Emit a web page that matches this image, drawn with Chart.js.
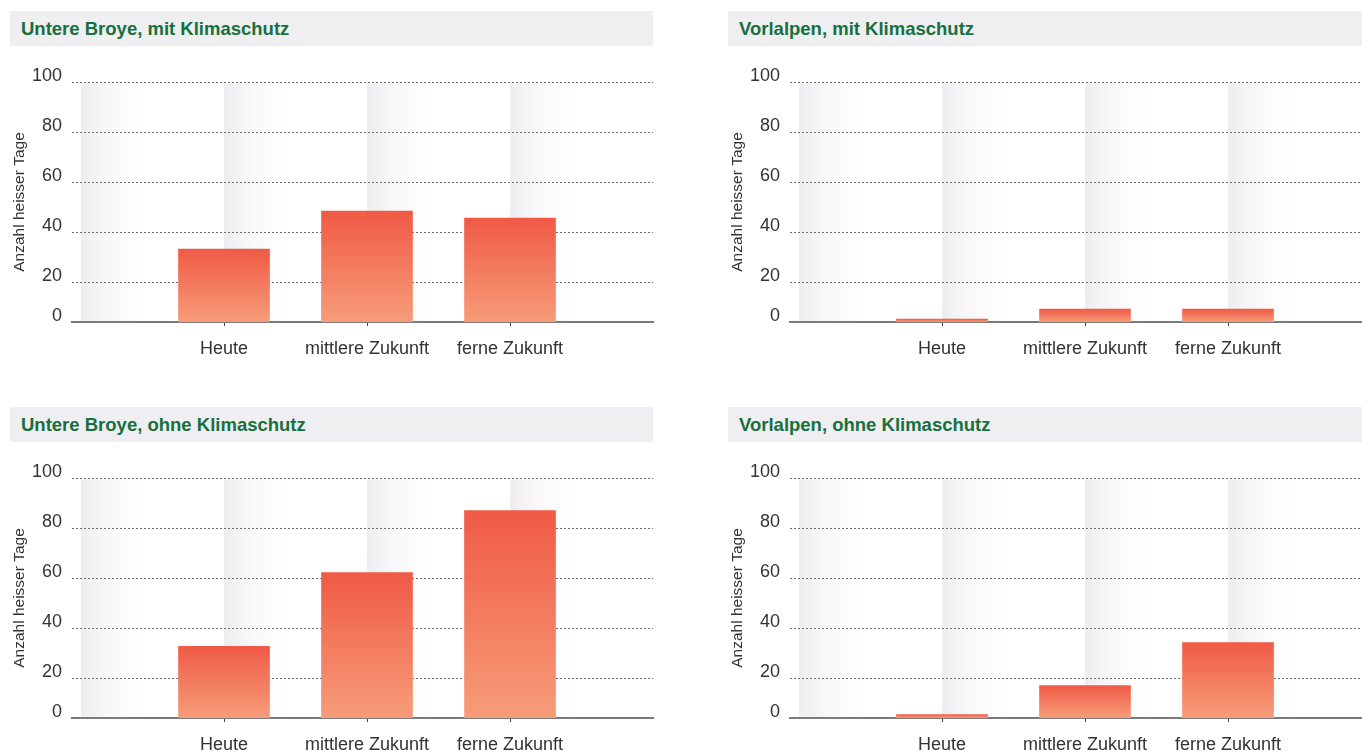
<!DOCTYPE html>
<html>
<head>
<meta charset="utf-8">
<script src="https://cdn.jsdelivr.net/npm/chart.js@4/dist/chart.umd.min.js"></script>
<style>
  body {
    margin: 0;
    width: 1362px;
    height: 751px;
    overflow: hidden;
    position: relative;
    background: #fff;
    font-family: "Liberation Sans", Arial, sans-serif;
  }
  .panel {
    position: absolute;
    width: 680px;
    height: 396px;
  }
  .head {
    position: absolute;
    left: 10px;
    top: 11px;
    width: 632px;
    height: 35px;
    padding-left: 11px;
    line-height: 35px;
    background: #efeef1;
    color: #17703e;
    font-weight: bold;
    font-size: 18.5px;
    white-space: nowrap;
  }
  .panel canvas {
    position: absolute;
    left: 0;
    top: 50px;
  }
</style>
</head>
<body>
<div class="panel" style="left:0;top:0">
  <div class="head">Untere Broye, mit Klimaschutz</div>
  <canvas id="broyeMit" width="680" height="345"></canvas>
</div>
<div class="panel" style="left:718px;top:0">
  <div class="head">Vorlalpen, mit Klimaschutz</div>
  <canvas id="voralpenMit" width="680" height="345"></canvas>
</div>
<div class="panel" style="left:0;top:396px">
  <div class="head">Untere Broye, ohne Klimaschutz</div>
  <canvas id="broyeOhne" width="680" height="345"></canvas>
</div>
<div class="panel" style="left:718px;top:396px">
  <div class="head">Vorlalpen, ohne Klimaschutz</div>
  <canvas id="voralpenOhne" width="680" height="345"></canvas>
</div>
<script>
// categories along the x axis
const categories = ["Heute", "mittlere Zukunft", "ferne Zukunft"];
// y axis tick labels (the lowest one sits on the axis line)
const yTickLabels = ["0", "20", "40", "60", "80", "100"];
const yTickValues = [20, 40, 60, 80, 100];
const axisTitle = "Anzahl heisser Tage";

// Anzahl heisser Tage per scenario
const broyeMit = [33.2, 48.4, 45.6];
const voralpenMit = [5.2, 9.2, 9.2];
const broyeOhne = [32.7, 62.2, 87];
const voralpenOhne = [5.4, 17, 34.2];

// the axis line of the original sits a little above the 0 of the grid spacing
const yAxisMin = 4;
const fontFamily = '"Liberation Sans", Arial, sans-serif';

// gray bands starting at every slot and fading out to the right
const bandPlugin = {
  id: "bands",
  beforeDraw(chart) {
    const { ctx, chartArea, scales } = chart;
    const x = scales.x;
    ctx.save();
    for (let i = 0; i <= categories.length; i++) {
      const x0 = x.getPixelForValue(i);
      const x1 = x.getPixelForValue(i + 1);
      const g = ctx.createLinearGradient(x0, 0, x0 + 75, 0);
      g.addColorStop(0, "#edecf0");
      g.addColorStop(1, "rgba(255,255,255,0)");
      ctx.fillStyle = g;
      ctx.fillRect(x0, chartArea.top + 1.5, x1 - x0, chartArea.bottom - chartArea.top - 1.5);
    }
    ctx.restore();
  },
};

function barGradient(context) {
  const chart = context.chart;
  const { chartArea } = chart;
  if (!chartArea || context.type !== "data") return "#f05a46";
  const top = chart.scales.y.getPixelForValue(context.parsed.y);
  const g = chart.ctx.createLinearGradient(0, top, 0, chartArea.bottom);
  g.addColorStop(0, "#f05a46");
  g.addColorStop(1, "#f69c79");
  return g;
}

function makeChart(id, values) {
  return new Chart(document.getElementById(id), {
    type: "bar",
    data: {
      datasets: [
        {
          data: values.map((v, i) => ({ x: i + 1, y: v })),
          backgroundColor: barGradient,
          borderWidth: 0,
          barThickness: 91,
        },
      ],
    },
    options: {
      responsive: false,
      animation: false,
      events: [],
      layout: {
        autoPadding: false,
        padding: { top: 32, right: 27, left: 0, bottom: 0 },
      },
      plugins: {
        legend: { display: false },
        tooltip: { enabled: false },
      },
      scales: {
        x: {
          type: "linear",
          offset: false,
          min: -0.063,
          max: categories.length + 1,
          afterBuildTicks(scale) {
            scale.ticks = categories.map((c, i) => ({ value: i + 1 }));
          },
          afterFit(scale) {
            scale.height = 73;
          },
          grid: {
            offset: false,
            drawOnChartArea: false,
            drawTicks: true,
            tickLength: 4,
            tickColor: "#444",
            color: "#444",
          },
          border: { display: true, color: "#7b7b7b", width: 2 },
          ticks: {
            padding: 12,
            color: "#333",
            font: { family: fontFamily, size: 18 },
            maxRotation: 0,
            autoSkip: false,
            callback: (v) => categories[v - 1],
          },
        },
        y: {
          min: yAxisMin,
          max: 100,
          afterBuildTicks(scale) {
            scale.ticks = [yAxisMin, ...yTickValues].map((v) => ({ value: v }));
          },
          afterFit(scale) {
            scale.width = 72;
          },
          grid: {
            drawTicks: false,
            color: "#6f6f6f",
            lineWidth: 1,
          },
          border: { display: false, dash: [2, 2] },
          ticks: {
            padding: 10,
            labelOffset: -6,
            color: "#333",
            font: { family: fontFamily, size: 18 },
            callback: (v, i) => yTickLabels[i],
          },
          title: {
            display: true,
            text: axisTitle,
            color: "#333",
            font: { family: fontFamily, size: 15.5 },
            padding: { top: 10.7, bottom: 0 },
          },
        },
      },
    },
    plugins: [bandPlugin],
  });
}

makeChart("broyeMit", broyeMit);
makeChart("voralpenMit", voralpenMit);
makeChart("broyeOhne", broyeOhne);
makeChart("voralpenOhne", voralpenOhne);
</script>
</body>
</html>
